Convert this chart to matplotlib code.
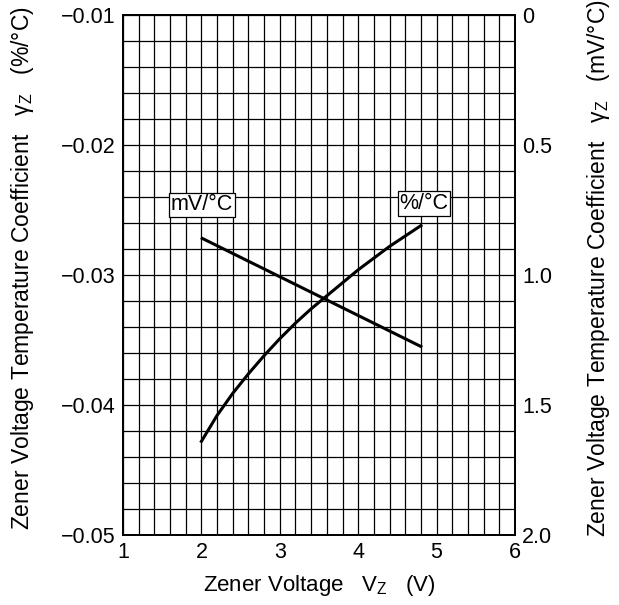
import matplotlib
matplotlib.use('Agg')
import matplotlib.pyplot as plt
import numpy as np

plt.rcParams['font.family'] = ['Liberation Sans', 'DejaVu Sans']
plt.rcParams['mathtext.fontset'] = 'custom'
plt.rcParams['mathtext.rm'] = 'Liberation Sans'
plt.rcParams['mathtext.it'] = 'Liberation Sans:italic'

# %/°C curve (left axis)
vz_pct = [2.0, 2.2, 2.4, 2.6, 2.8, 3.0, 3.2, 3.4, 3.6, 3.8, 4.0, 4.2, 4.4, 4.6, 4.8]
tc_pct = [-0.0428, -0.0408, -0.0391, -0.0376, -0.0362, -0.0349, -0.0337, -0.0326,
          -0.0316, -0.0306, -0.0296, -0.0287, -0.0278, -0.0270, -0.0262]

# mV/°C line (right axis)
vz_mv = [2.01, 4.80]
tc_mv = [0.859, 1.275]

x_ticks = [1, 2, 3, 4, 5, 6]
left_ticks = [-0.05, -0.04, -0.03, -0.02, -0.01]
left_labels = ['\u22120.05', '\u22120.04', '\u22120.03', '\u22120.02', '\u22120.01']
right_ticks = [0, 0.5, 1.0, 1.5, 2.0]
right_labels = ['0', '0.5', '1.0', '1.5', '2.0']

fig = plt.figure(figsize=(6.19, 6.05), dpi=100)
ax = fig.add_axes([123 / 619, 1 - 535 / 605, 392 / 619, 520 / 605])
ax2 = ax.twinx()

ax.set_xlim(1, 6)
ax.set_ylim(-0.05, -0.01)
ax2.set_ylim(2.0, 0)

ax.set_xticks(x_ticks)
ax.set_xticks(np.arange(1, 6.01, 0.2), minor=True)
ax.set_yticks(left_ticks)
ax.set_yticklabels(left_labels)
ax.set_yticks(np.arange(-0.05, -0.0099, 0.002), minor=True)
ax2.set_yticks(right_ticks)
ax2.set_yticklabels(right_labels)

ax.grid(True, which='both', color='black', linewidth=0.9)
ax.set_axisbelow(True)
ax.tick_params(which='both', length=0, labelsize=15.5, pad=5)
ax2.tick_params(which='both', length=0, labelsize=15.5, pad=5)

for a in (ax, ax2):
    for s in a.spines.values():
        s.set_linewidth(1.3)
        s.set_color('black')

ax.plot(vz_pct, tc_pct, color='black', linewidth=2.2)
ax2.plot(vz_mv, tc_mv, color='black', linewidth=2.2)

box = dict(boxstyle='square,pad=0.08', facecolor='white', edgecolor='black', linewidth=0.9)
ax.text(2.01, -0.0246, 'mV/\u00b0C', fontsize=15.5, ha='center', va='center', bbox=box)
ax.text(4.84, -0.0245, '%/\u00b0C', fontsize=15.5, ha='center', va='center', bbox=box)

ax.set_xlabel('Zener Voltage   V$_\\mathregular{Z}$   (V)', fontsize=16, labelpad=7)
fig.text(23 / 619, 1 - 268 / 605,
         'Zener Voltage Temperature Coefficient   \u03b3$_\\mathregular{Z}$   (%/\u00b0C)',
         rotation=90, fontsize=16.5, ha='center', va='center')
fig.text(599 / 619, 1 - 268 / 605,
         'Zener Voltage Temperature Coefficient   \u03b3$_\\mathregular{Z}$   (mV/\u00b0C)',
         rotation=90, fontsize=16.5, ha='center', va='center')

fig.savefig('out.png', dpi=100)
